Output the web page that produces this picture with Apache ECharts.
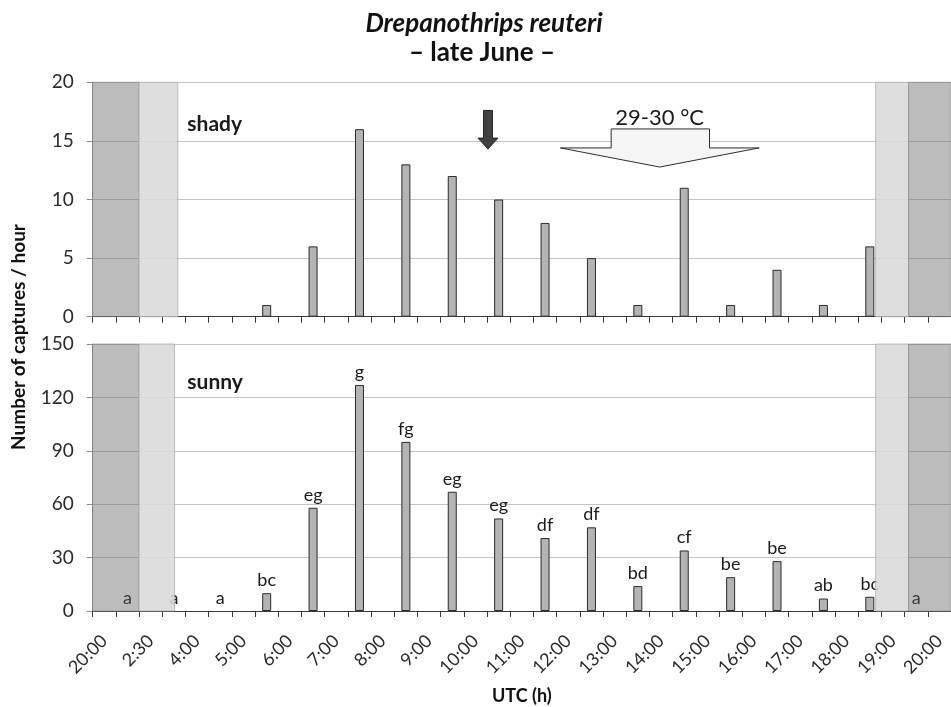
<!DOCTYPE html>
<html>
<head>
<meta charset="utf-8">
<script src="https://cdn.jsdelivr.net/npm/echarts@6/dist/echarts.min.js"></script>
<style>html,body{margin:0;padding:0;background:#fff}#c{width:951px;height:707px}</style>
</head>
<body>
<div id="c"></div>
<script>
// Hour boundary labels (x axis)
const timeLabels = ['20:00','2:30','4:00','5:00','6:00','7:00','8:00','9:00','10:00','11:00','12:00','13:00','14:00','15:00','16:00','17:00','18:00','19:00','20:00'];
// Captures per hour for each interval between consecutive labels
const shadyCounts = [0, 0, 0, 1, 6, 16, 13, 12, 10, 8, 5, 1, 11, 1, 4, 1, 6, 0];
const sunnyCounts = [0, 0, 0, 10, 58, 127, 95, 67, 52, 41, 47, 14, 34, 19, 28, 7, 8, 0];
const sunnyLetters = ['a','a','a','bc','eg','g','fg','eg','eg','df','df','bd','cf','be','be','ab','bc','a'];
// y axis ticks
const shadyAxis = { max: 20, interval: 5 };
const sunnyAxis = { max: 150, interval: 30 };
// night / twilight bands in slot units along the time axis [start, end, level(1 night,0 twilight)]
const shadyBands = [[0, 2, 1], [2, 3.67, 0], [33.75, 35.17, 0], [35.17, 37, 1]];
const sunnyBands = [[0, 2, 1], [2, 3.53, 0], [33.75, 35.17, 0], [35.17, 37, 1]];

// build slot categories: label slots (even) and interval slots (odd)
const slots = [];
for (let i = 0; i < timeLabels.length; i++) {
  slots.push(timeLabels[i]);
  if (i < timeLabels.length - 1) slots.push(timeLabels[i] + '–' + timeLabels[i + 1]);
}
const toSlots = arr => slots.map((s, k) => {
  if (k % 2 === 0) return null;
  const v = arr[(k - 1) / 2];
  return v === 0 ? { value: 0, itemStyle: { borderWidth: 0, color: 'rgba(0,0,0,0)' } } : v;
});

const FONT = 'Lato';
const chart = echarts.init(document.getElementById('c'));

const L = 92.7, W = 863.3;
const g0 = { left: L, width: W, top: 82.3, height: 234.4 };
const g1 = { left: L, width: W, top: 344, height: 267 };

function catAxis(gi, showLabels) {
  return {
    type: 'category', gridIndex: gi, data: slots, boundaryGap: true,
    axisLine: { show: true, lineStyle: { color: '#3a3a3a', width: 1 } },
    axisTick: { show: true, interval: 0, length: 6, lineStyle: { color: '#3a3a3a' } },
    axisLabel: {
      show: showLabels, interval: 1, rotate: 45, margin: 27,
      fontFamily: FONT, fontSize: 18, color: '#2a2a2a'
    },
    splitLine: { show: false }
  };
}
function valAxis(gi, cfg) {
  return {
    type: 'value', gridIndex: gi, min: 0, max: cfg.max, interval: cfg.interval,
    axisLine: { show: true, lineStyle: { color: '#8a8a8a' } },
    axisTick: { show: true, length: 6, lineStyle: { color: '#8a8a8a' } },
    axisLabel: { fontFamily: FONT, fontSize: 19, color: '#2a2a2a', margin: 19 },
    splitLine: { show: true, lineStyle: { color: '#c4c4c4', width: 1.2 } }
  };
}
function bandSeries(xi, yi, bands, ymax) {
  return {
    type: 'custom', xAxisIndex: xi, yAxisIndex: yi, z: 5, silent: true,
    data: bands,
    encode: { x: [0, 1], y: 2 },
    renderItem: (params, api) => {
      const p0 = api.coord([api.value(0), ymax]);
      const p1 = api.coord([api.value(1), 0]);
      const night = api.value(2) === 1;
      return {
        type: 'rect',
        shape: { x: p0[0], y: p0[1], width: p1[0] - p0[0], height: p1[1] - p0[1] },
        style: {
          fill: night ? 'rgba(95,95,95,0.42)' : 'rgba(218,218,218,0.88)',
          stroke: night ? 'rgba(140,140,140,0.6)' : 'rgba(170,170,170,0.7)',
          lineWidth: 1
        }
      };
    }
  };
}
const barStyle = { color: '#b4b4b4', borderColor: '#2b2b2b', borderWidth: 1 };

const option = {
  backgroundColor: '#fff',
  animation: false,
  title: [
    { text: 'Drepanothrips reuteri', left: 479, top: 6, textAlign: 'center',
      textStyle: { fontFamily: FONT, fontSize: 26, fontWeight: 'bold', fontStyle: 'italic', color: '#111' } },
    { text: '– late June –', left: 477, top: 35, textAlign: 'center',
      textStyle: { fontFamily: FONT, fontSize: 26, fontWeight: 'bold', color: '#111' } }
  ],
  grid: [g0, g1],
  xAxis: [
    catAxis(0, false),
    Object.assign(catAxis(1, true), {
      name: 'UTC (h)', nameLocation: 'middle', nameGap: 76,
      nameTextStyle: { fontFamily: FONT, fontSize: 18, fontWeight: 'bold', color: '#111' }
    }),
    { type: 'value', gridIndex: 0, min: 0, max: 37, show: false },
    { type: 'value', gridIndex: 1, min: 0, max: 37, show: false }
  ],
  yAxis: [valAxis(0, shadyAxis), valAxis(1, sunnyAxis)],
  series: [
    { type: 'bar', name: 'shady', xAxisIndex: 0, yAxisIndex: 0, data: toSlots(shadyCounts),
      barWidth: 9, itemStyle: barStyle, z: 2 },
    { type: 'bar', name: 'sunny', xAxisIndex: 1, yAxisIndex: 1, data: toSlots(sunnyCounts),
      barWidth: 9, itemStyle: barStyle, z: 2,
      label: { show: true, position: 'top', distance: 4, fontFamily: FONT, fontSize: 18, color: '#1a1a1a',
        formatter: p => sunnyLetters[(p.dataIndex - 1) / 2] } },
    bandSeries(2, 0, shadyBands, shadyAxis.max),
    bandSeries(3, 1, sunnyBands, sunnyAxis.max)
  ]
};
chart.setOption(option);

// annotations positioned in axis units
const P0 = (x, y) => chart.convertToPixel({ xAxisIndex: 2, yAxisIndex: 0 }, [x, y]);
const P1 = (x, y) => chart.convertToPixel({ xAxisIndex: 3, yAxisIndex: 1 }, [x, y]);

const arrowTop = P0(17.04, 17.6), arrowTip = P0(17.04, 14.3);
const ax = arrowTop[0], sw = 4.5, hw = 10, hl = 11;
const darkArrow = [
  [ax - sw, arrowTop[1]], [ax + sw, arrowTop[1]], [ax + sw, arrowTip[1] - hl], [ax + hw, arrowTip[1] - hl],
  [ax, arrowTip[1]], [ax - hw, arrowTip[1] - hl], [ax - sw, arrowTip[1] - hl]
];
const callout = [
  P0(22.35, 16.02), P0(26.59, 16.02), P0(26.59, 14.4), P0(28.73, 14.4),
  P0(24.44, 12.77), P0(20.16, 14.4), P0(22.35, 14.4)
];
const calloutText = P0(24.44, 17.0);
const shadyPos = P0(4.08, 16.4);
const sunnyPos = P1(4.08, 128.5);

chart.setOption({
  graphic: [
    { type: 'polygon', z: 20, shape: { points: darkArrow },
      style: { fill: '#404040', stroke: '#262626', lineWidth: 1 } },
    { type: 'polygon', z: 20, shape: { points: callout },
      style: { fill: '#f5f5f5', stroke: '#2e2e2e', lineWidth: 1 } },
    { type: 'text', z: 21, x: calloutText[0], y: calloutText[1],
      style: { text: '29-30 °C', fontFamily: FONT, fontSize: 22, fill: '#1a1a1a', align: 'center', verticalAlign: 'middle' } },
    { type: 'text', z: 21, x: shadyPos[0], y: shadyPos[1],
      style: { text: 'shady', fontFamily: FONT, fontSize: 21, fontWeight: 'bold', fill: '#1a1a1a', align: 'left', verticalAlign: 'middle' } },
    { type: 'text', z: 21, x: sunnyPos[0], y: sunnyPos[1],
      style: { text: 'sunny', fontFamily: FONT, fontSize: 21, fontWeight: 'bold', fill: '#1a1a1a', align: 'left', verticalAlign: 'middle' } },
    { type: 'text', z: 21, x: 19, y: 337, rotation: Math.PI / 2,
      style: { text: 'Number of captures / hour', fontFamily: FONT, fontSize: 19, fontWeight: 'bold', fill: '#111', align: 'center', verticalAlign: 'middle' } }
  ]
});
</script>
</body>
</html>
